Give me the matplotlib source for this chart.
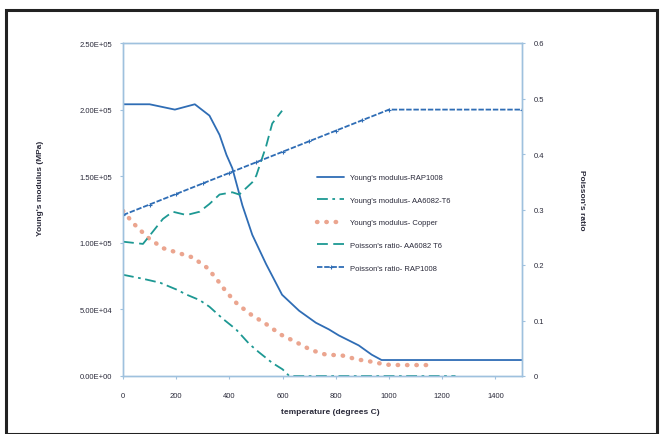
import matplotlib
matplotlib.use("Agg")
import matplotlib.pyplot as plt
from matplotlib.patches import Rectangle

plt.rcParams['font.family'] = ['Liberation Sans', 'DejaVu Sans']

# --- data ---
t_e_rap = [0, 100, 195, 270, 325, 363, 389, 411, 449, 486, 538, 598, 662, 725, 774, 811, 886, 935, 972, 1000, 1500]
e_rap = [2.04e5, 2.04e5, 2.00e5, 2.04e5, 1.955e5, 1.81e5, 1.66e5, 1.56e5, 1.28e5, 1.06e5, 8.4e4, 6.1e4,
         4.9e4, 4.0e4, 3.5e4, 3.05e4, 2.3e4, 1.6e4, 1.2e4, 1.2e4, 1.2e4]

t_e_al = [0, 75, 140, 200, 240, 288, 325, 375, 425, 475, 510, 560, 600, 625, 1250]
e_al = [7.6e4, 7.3e4, 7.0e4, 6.5e4, 6.1e4, 5.7e4, 5.2e4, 4.3e4, 3.5e4, 2.4e4, 1.8e4, 1.0e4, 5.0e3, 0.0, 0.0]

t_e_cu = [0, 37, 93, 150, 206, 262, 318, 355, 389, 430, 482, 538, 594, 650, 707, 763, 822, 879, 942, 987, 1043, 1099, 1159]
e_cu = [1.24e5, 1.15e5, 1.04e5, 9.6e4, 9.25e4, 8.9e4, 8.1e4, 7.2e4, 6.3e4, 5.4e4, 4.6e4, 3.9e4, 3.1e4, 2.55e4,
        1.95e4, 1.6e4, 1.55e4, 1.25e4, 1.05e4, 8.5e3, 8.2e3, 8.2e3, 8.2e3]

t_nu_al = [0, 75, 112, 150, 187, 239, 288, 325, 363, 411, 437, 486, 501, 538, 561, 598]
nu_al = [0.242, 0.238, 0.26, 0.283, 0.296, 0.29, 0.296, 0.31, 0.327, 0.331, 0.327, 0.349, 0.361, 0.414, 0.455, 0.478]

t_nu_rap = [0, 100, 200, 300, 400, 500, 600, 700, 800, 900, 1000, 1500]
nu_rap = [0.29, 0.309, 0.328, 0.347, 0.366, 0.385, 0.404, 0.423, 0.442, 0.461, 0.48, 0.48]

labels = ["Young's modulus-RAP1008", "Young's modulus- AA6082-T6", "Young's modulus- Copper",
          "Poisson's ratio- AA6082 T6", "Poisson's ratio- RAP1008"]
x_ticks = [0, 200, 400, 600, 800, 1000, 1200, 1400]
y_ticks = [0, 5e4, 1e5, 1.5e5, 2e5, 2.5e5]
y_tick_labels = ["0.00E+00", "5.00E+04", "1.00E+05", "1.50E+05", "2.00E+05", "2.50E+05"]
y2_ticks = [0, 0.1, 0.2, 0.3, 0.4, 0.5, 0.6]
y2_tick_labels = ["0", "0.1", "0.2", "0.3", "0.4", "0.5", "0.6"]

BLUE = "#2f6db5"
TEAL = "#1d9893"
SALMON = "#eba58f"
AXC = "#9fc1de"
TXT = "#2a2a3a"

W, H = 664, 435
fig = plt.figure(figsize=(W / 100, H / 100), dpi=100)
L, R, T, B = 123, 522, 44, 377
ax = fig.add_axes([L / W, 1 - B / H, (R - L) / W, (B - T) / H])
ax2 = ax.twinx()

l1, = ax.plot(t_e_rap, e_rap, color=BLUE, lw=1.3, solid_capstyle='round')
l2, = ax.plot(t_e_al, e_al, color=TEAL, lw=1.3, ls=(0, (6, 2.5, 1.5, 2.5)))
l3, = ax.plot(t_e_cu, e_cu, color=SALMON, lw=3.2, ls=(0, (0.1, 2.0)), dash_capstyle='round')
l4, = ax2.plot(t_nu_al, nu_al, color=TEAL, lw=1.3, ls=(0, (6, 3)))
l5, = ax2.plot(t_nu_rap, nu_rap, color=BLUE, lw=1.3, ls=(0, (3, 1)), marker='+', ms=3, mew=0.8)

ax.set_xlim(0, 1500)
ax.set_ylim(0, 2.5e5)
ax2.set_ylim(0, 0.6)
ax.set_xticks(x_ticks)
ax.set_xticklabels([str(v) for v in x_ticks])
ax.set_yticks(y_ticks)
ax.set_yticklabels(y_tick_labels)
ax2.set_yticks(y2_ticks)
ax2.set_yticklabels(y2_tick_labels)

for a in (ax, ax2):
    for s in a.spines.values():
        s.set_color(AXC)
        s.set_linewidth(1.0)
    a.tick_params(colors=AXC, labelcolor=TXT, labelsize=5.5, length=2.5, width=0.8)
ax.tick_params(axis='x', pad=9)
ax.tick_params(axis='y', pad=5)
ax2.tick_params(axis='y', pad=6)

fig.text(40 / W, 1 - 188 / H, "Young's modulus (MPa)", rotation=90, ha='center', va='center',
         fontsize=6, color=TXT, fontweight='bold')
fig.text(582 / W, 1 - 200 / H, "Poisson's ratio", rotation=270, ha='center', va='center',
         fontsize=6, color=TXT, fontweight='bold')
fig.text(330 / W, 1 - 413 / H, "temperature (degrees C)", ha='center', va='center',
         fontsize=6, color=TXT, fontweight='bold')

leg = fig.legend([l1, l2, l3, l4, l5], labels, loc='upper left',
                 bbox_to_anchor=(310 / W, 1 - 168 / H), frameon=False, fontsize=5.5,
                 handlelength=3.6, labelspacing=2.0, handletextpad=0.8)
for t in leg.get_texts():
    t.set_color(TXT)

fig.patches.append(Rectangle((6 / W, 0), (657 - 6) / W, 1 - 11 / H, transform=fig.transFigure,
                             fill=False, edgecolor='#222222', lw=2.2))

fig.savefig("out.png", dpi=100)
